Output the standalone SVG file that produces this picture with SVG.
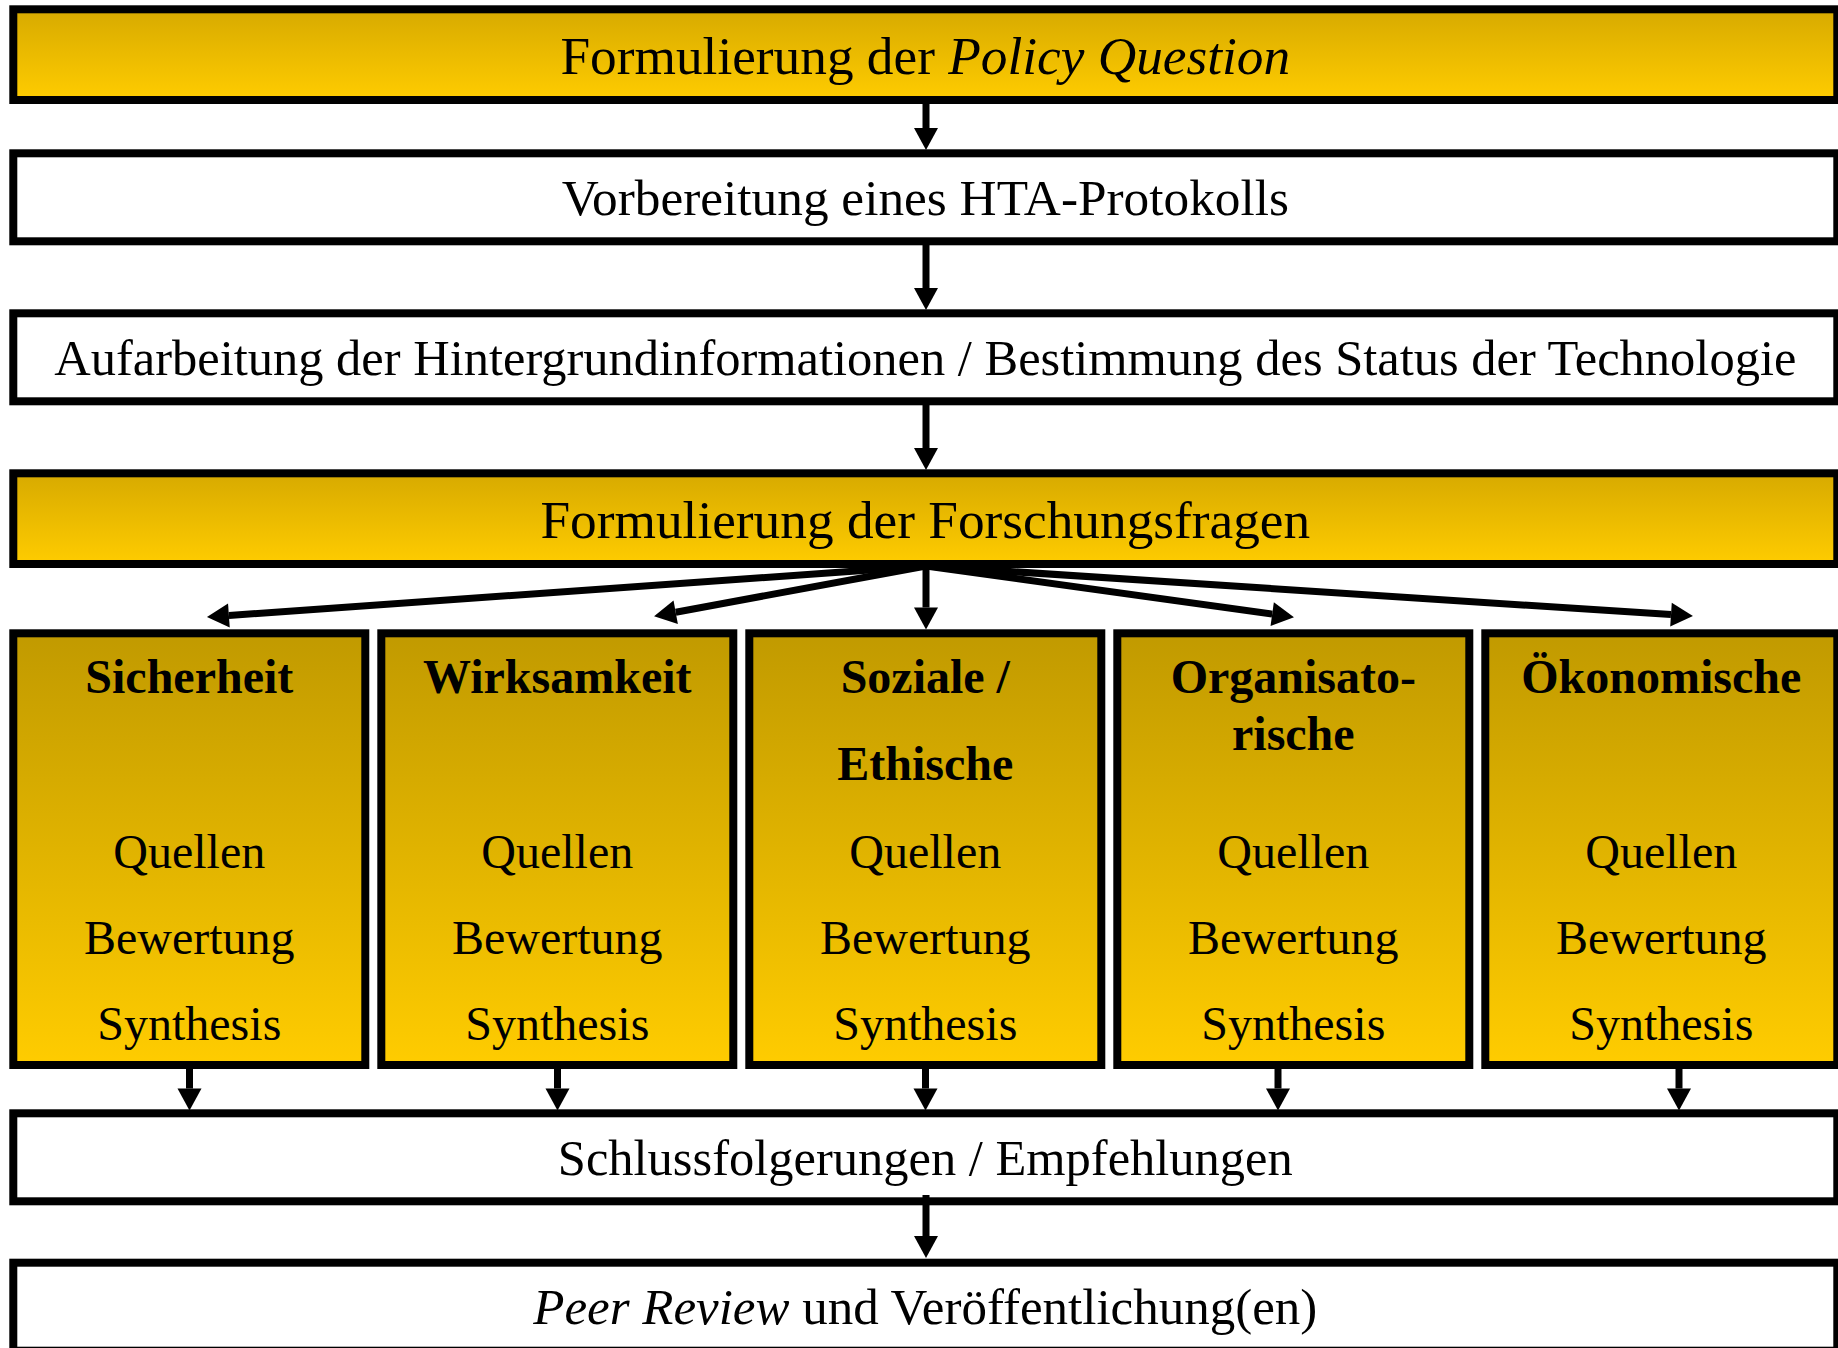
<svg xmlns="http://www.w3.org/2000/svg" width="1838" height="1348" viewBox="0 0 1838 1348">
<defs>
<linearGradient id="gMain" x1="0" y1="0" x2="0" y2="1">
<stop offset="0" stop-color="#D7AA00"/>
<stop offset="1" stop-color="#FFCC00"/>
</linearGradient>
<linearGradient id="gCat" x1="0" y1="0" x2="0" y2="1">
<stop offset="0" stop-color="#C19A00"/>
<stop offset="1" stop-color="#FFCC00"/>
</linearGradient>
<marker id="ah" markerUnits="userSpaceOnUse" viewBox="0 -12 22 24" markerWidth="22" markerHeight="24" refX="0" refY="0" orient="auto" overflow="visible">
<path d="M0,-12 L22,0 L0,12 Z" fill="#000"/>
</marker>
<style>
.box{stroke:#000;stroke-width:8}
.white{fill:#fff}
.main{fill:url(#gMain)}
.cat{fill:url(#gCat)}
text{font-family:"Liberation Serif","Times New Roman",serif;fill:#000;text-anchor:middle}
.t{font-size:50.5px}
.tl{font-size:53.3px}
.c{font-size:48px}
.b{font-weight:bold}
.i{font-style:italic}
.arr{stroke:#000;stroke-width:7;fill:none;marker-end:url(#ah)}
</style>
</defs>

<g id="n-policy">
<rect class="box main" x="13.3" y="9.3" width="1824" height="90.7"/>
<text class="tl" x="925.3" y="74">Formulierung der <tspan class="i">Policy Question</tspan></text>
</g>
<g id="n-protokoll">
<rect class="box white" x="13.3" y="153.3" width="1824" height="88"/>
<text class="t" x="925.3" y="215" style="font-size:51.3px">Vorbereitung eines HTA-Protokolls</text>
</g>
<g id="n-hintergrund">
<rect class="box white" x="13.3" y="313.3" width="1824" height="88"/>
<text class="t" x="925.3" y="375">Aufarbeitung der Hintergrundinformationen / Bestimmung des Status der Technologie</text>
</g>
<g id="n-forschungsfragen">
<rect class="box main" x="13.3" y="473.3" width="1824" height="90.7"/>
<text class="tl" x="925.3" y="538">Formulierung der Forschungsfragen</text>
</g>

<g id="n-sicherheit">
<rect class="box cat" x="13.3" y="633.3" width="352" height="431.7"/>
<text class="c b" x="189.3" y="693">Sicherheit</text>
<text class="c" x="189.3" y="868">Quellen</text>
<text class="c" x="189.3" y="954">Bewertung</text>
<text class="c" x="189.3" y="1040">Synthesis</text>
</g>
<g id="n-wirksamkeit">
<rect class="box cat" x="381.3" y="633.3" width="352" height="431.7"/>
<text class="c b" x="557.3" y="693">Wirksamkeit</text>
<text class="c" x="557.3" y="868">Quellen</text>
<text class="c" x="557.3" y="954">Bewertung</text>
<text class="c" x="557.3" y="1040">Synthesis</text>
</g>
<g id="n-soziale">
<rect class="box cat" x="749.3" y="633.3" width="352" height="431.7"/>
<text class="c b" x="925.3" y="693">Soziale /</text>
<text class="c b" x="925.3" y="780">Ethische</text>
<text class="c" x="925.3" y="868">Quellen</text>
<text class="c" x="925.3" y="954">Bewertung</text>
<text class="c" x="925.3" y="1040">Synthesis</text>
</g>
<g id="n-organisatorische">
<rect class="box cat" x="1117.3" y="633.3" width="352" height="431.7"/>
<text class="c b" x="1293.3" y="693">Organisato-</text>
<text class="c b" x="1293.3" y="750">rische</text>
<text class="c" x="1293.3" y="868">Quellen</text>
<text class="c" x="1293.3" y="954">Bewertung</text>
<text class="c" x="1293.3" y="1040">Synthesis</text>
</g>
<g id="n-oekonomische">
<rect class="box cat" x="1485.3" y="633.3" width="352" height="431.7"/>
<text class="c b" x="1661.3" y="693">Ökonomische</text>
<text class="c" x="1661.3" y="868">Quellen</text>
<text class="c" x="1661.3" y="954">Bewertung</text>
<text class="c" x="1661.3" y="1040">Synthesis</text>
</g>

<g id="n-schluss">
<rect class="box white" x="13.3" y="1113.3" width="1824" height="88"/>
<text class="t" x="925.3" y="1175">Schlussfolgerungen / Empfehlungen</text>
</g>
<g id="n-peer">
<rect class="box white" x="13.3" y="1262.7" width="1824" height="88"/>
<text class="t" x="925.3" y="1324" style="font-size:51px"><tspan class="i">Peer Review</tspan> und Veröffentlichung(en)</text>
</g>

<g id="connectors">
<line class="arr" x1="926" y1="101" x2="926" y2="128"/>
<line class="arr" x1="926" y1="242" x2="926" y2="288"/>
<line class="arr" x1="926" y1="402" x2="926" y2="448"/>
<line class="arr" x1="926" y1="566" x2="228.9" y2="615.5"/>
<line class="arr" x1="926" y1="566" x2="675.7" y2="612.2"/>
<line class="arr" x1="926" y1="566" x2="926" y2="607.5"/>
<line class="arr" x1="926" y1="566" x2="1272.2" y2="614.1"/>
<line class="arr" x1="926" y1="566" x2="1671" y2="614.6"/>
<line class="arr" x1="189.5" y1="1066" x2="189.5" y2="1088.5"/>
<line class="arr" x1="557.5" y1="1066" x2="557.5" y2="1088.5"/>
<line class="arr" x1="925.5" y1="1066" x2="925.5" y2="1088.5"/>
<line class="arr" x1="1278" y1="1066" x2="1278" y2="1088.5"/>
<line class="arr" x1="1679" y1="1066" x2="1679" y2="1088.5"/>
<line class="arr" x1="926" y1="1195" x2="926" y2="1236"/>
</g>
</svg>
